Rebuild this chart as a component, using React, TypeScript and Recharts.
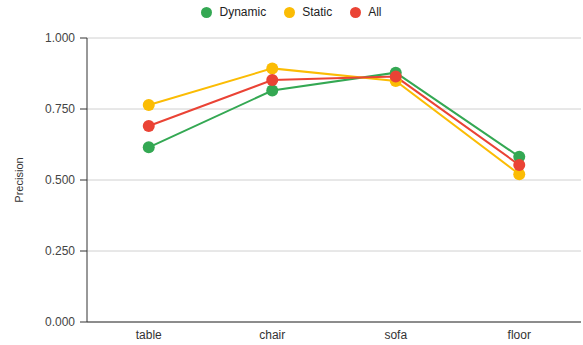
import { LineChart, Line, XAxis, YAxis, CartesianGrid, Legend } from "recharts"

const categories = ["table", "chair", "sofa", "floor"]
const dynamicVals = [0.615, 0.815, 0.878, 0.582]
const staticVals = [0.764, 0.893, 0.849, 0.52]
const allVals = [0.69, 0.852, 0.864, 0.553]
const yTicks = [0, 0.25, 0.5, 0.75, 1]

const data = categories.map((c, i) => ({
  name: c,
  Dynamic: dynamicVals[i],
  Static: staticVals[i],
  All: allVals[i],
}))

const series = [
  { key: "Dynamic", color: "#34a853" },
  { key: "Static", color: "#fbbc04" },
  { key: "All", color: "#ea4335" },
]

const font = "'Liberation Sans', Arial, sans-serif"

function LegendContent() {
  return (
    <div style={{ display: "flex", justifyContent: "center", gap: 18, fontFamily: font, fontSize: 12, color: "#222" }}>
      {series.map((s) => (
        <div key={s.key} style={{ display: "flex", alignItems: "center", gap: 7 }}>
          <span style={{ width: 11, height: 11, borderRadius: "50%", background: s.color, display: "inline-block" }} />
          <span>{s.key}</span>
        </div>
      ))}
    </div>
  )
}

export default function App() {
  return (
    <div style={{ position: "absolute", left: 0, top: 0, background: "#fff" }}>
      <LineChart width={583} height={345} data={data} margin={{ top: 20, right: 2, bottom: 0, left: 0 }}>
        <CartesianGrid vertical={false} stroke="#d0d0d0" />
        <Legend
          verticalAlign="top"
          content={<LegendContent />}
          wrapperStyle={{ top: 5, left: 0, width: 583, height: 18 }}
        />
        <XAxis
          dataKey="name"
          scale="band"
          height={23}
          tickLine={false}
          axisLine={{ stroke: "#333" }}
          tick={{ fontSize: 12, fill: "#333", fontFamily: font }}
        />
        <YAxis
          domain={[0, 1]}
          ticks={yTicks}
          width={87}
          tickFormatter={(v: number) => v.toFixed(3)}
          tickLine={{ stroke: "#333" }}
          tickSize={7}
          axisLine={{ stroke: "#333" }}
          tick={{ fontSize: 12, fill: "#444", fontFamily: font, dx: -3 }}
          label={{ value: "Precision", angle: -90, position: "insideLeft", offset: 19, style: { fontSize: 11, fill: "#333", fontFamily: font, textAnchor: "middle" } }}
        />
        {series.map((s) => (
          <Line
            key={s.key}
            dataKey={s.key}
            stroke={s.color}
            strokeWidth={2}
            dot={{ r: 6, fill: s.color, stroke: s.color, strokeWidth: 0 }}
            activeDot={false}
            isAnimationActive={false}
          />
        ))}
      </LineChart>
    </div>
  )
}
